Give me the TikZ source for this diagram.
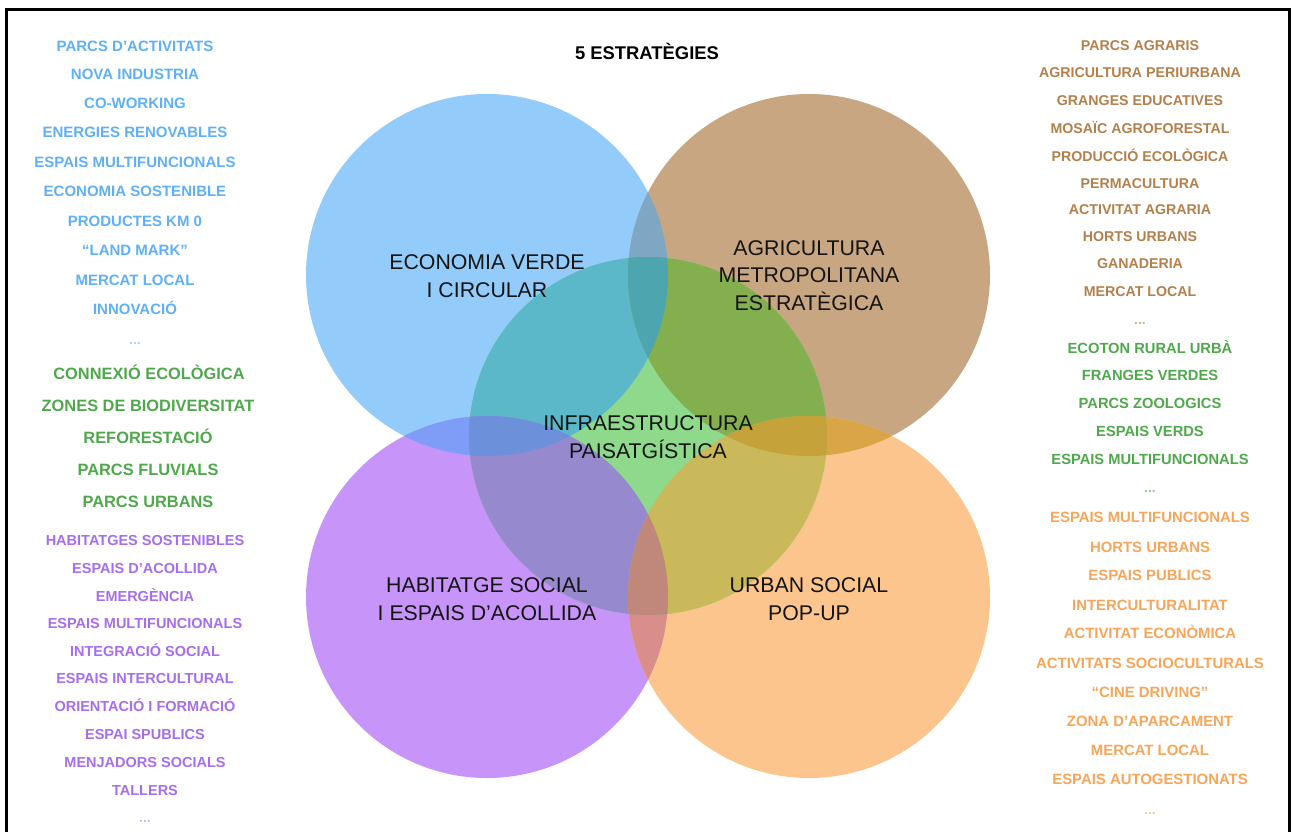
\documentclass[tikz,border=0pt]{standalone}
\usepackage{fontspec}
\setmainfont{Liberation Sans}
\definecolor{cBlue}{HTML}{93CBFB}
\definecolor{cBrown}{HTML}{C8A682}
\definecolor{cPurple}{HTML}{C794F9}
\definecolor{cOrange}{HTML}{FCC58E}
\definecolor{cGreen}{HTML}{8ED98C}
\definecolor{cBlueGreen}{HTML}{5BB8C9}
\definecolor{cBrownGreen}{HTML}{84AF4F}
\definecolor{cPurpleGreen}{HTML}{9689CE}
\definecolor{cOrangeGreen}{HTML}{C9B95A}
\definecolor{cBlueBrown}{HTML}{7FA6C3}
\definecolor{cBlueBrownGreen}{HTML}{4DA5B0}
\definecolor{cPurpleOrange}{HTML}{DA8E8C}
\definecolor{cPurpleOrangeGreen}{HTML}{C0877B}
\definecolor{cBluePurple}{HTML}{7F9CF6}
\definecolor{cBluePurpleGreen}{HTML}{6D90DA}
\definecolor{cBrownOrange}{HTML}{D9A547}
\definecolor{cBrownOrangeGreen}{HTML}{C6A23A}
\definecolor{tBlue}{HTML}{5FB0F6}
\definecolor{tGreen}{HTML}{4FA84B}
\definecolor{tPurple}{HTML}{A66EEE}
\definecolor{tBrown}{HTML}{B3804C}
\definecolor{tOrange}{HTML}{F6A65A}
\tikzset{
  lbl/.style={align=center, font=\fontsize{21.3}{27.8}\selectfont, text=black!92, inner sep=0pt},
  itm/.style={font=\fontsize{#1}{#1}\selectfont\bfseries, text height=0.716*#1 pt, text depth=0pt, inner sep=0pt},
  dts/.style={font=\fontsize{14}{14}\selectfont\bfseries, inner sep=0pt, anchor=base},
}
\begin{document}
\begin{tikzpicture}[x=1pt,y=-1pt]
\useasboundingbox (0,0) rectangle (1292,832);
\fill[white] (0,0) rectangle (1292,832);
% frame
\draw[line width=3pt] (6.5,832) -- (6.5,10) -- (1289.5,10) -- (1289.5,832);

\def\R{181}
\def\RG{179}
\coordinate (cB) at (487,275);
\coordinate (cBr) at (809,275);
\coordinate (cP) at (487,597);
\coordinate (cO) at (809,597);
\coordinate (cG) at (648,436);

% base circles
\fill[cBlue] (cB) circle[radius=\R];
\fill[cBrown] (cBr) circle[radius=\R];
\fill[cPurple] (cP) circle[radius=\R];
\fill[cOrange] (cO) circle[radius=\R];
\fill[cGreen] (cG) circle[radius=\RG];
% outer pair overlaps
\begin{scope}\clip (cB) circle[radius=\R]; \fill[cBlueBrown] (cBr) circle[radius=\R];\end{scope}
\begin{scope}\clip (cP) circle[radius=\R]; \fill[cPurpleOrange] (cO) circle[radius=\R];\end{scope}
\begin{scope}\clip (cB) circle[radius=\R]; \fill[cBluePurple] (cP) circle[radius=\R];\end{scope}
\begin{scope}\clip (cBr) circle[radius=\R]; \fill[cBrownOrange] (cO) circle[radius=\R];\end{scope}
% green overlaps
\begin{scope}\clip (cG) circle[radius=\RG]; \fill[cBlueGreen] (cB) circle[radius=\R];\end{scope}
\begin{scope}\clip (cG) circle[radius=\RG]; \fill[cBrownGreen] (cBr) circle[radius=\R];\end{scope}
\begin{scope}\clip (cG) circle[radius=\RG]; \fill[cPurpleGreen] (cP) circle[radius=\R];\end{scope}
\begin{scope}\clip (cG) circle[radius=\RG]; \fill[cOrangeGreen] (cO) circle[radius=\R];\end{scope}
% triple overlaps
\begin{scope}\clip (cG) circle[radius=\RG]; \clip (cB) circle[radius=\R]; \fill[cBlueBrownGreen] (cBr) circle[radius=\R];\end{scope}
\begin{scope}\clip (cG) circle[radius=\RG]; \clip (cP) circle[radius=\R]; \fill[cPurpleOrangeGreen] (cO) circle[radius=\R];\end{scope}
\begin{scope}\clip (cG) circle[radius=\RG]; \clip (cB) circle[radius=\R]; \fill[cBluePurpleGreen] (cP) circle[radius=\R];\end{scope}
\begin{scope}\clip (cG) circle[radius=\RG]; \clip (cBr) circle[radius=\R]; \fill[cBrownOrangeGreen] (cO) circle[radius=\R];\end{scope}

% title
\node[itm=18.4, text=black] (title) at (647,53) {5 ESTRATÈGIES};

% circle labels
\node[lbl] (lEco) at (487,276.5) {ECONOMIA VERDE\\I CIRCULAR};
\node[lbl] (lAgr) at (809,275.5) {AGRICULTURA\\METROPOLITANA\\ESTRATÈGICA};
\node[lbl] (lInf) at (648,437.5) {INFRAESTRUCTURA\\PAISATGÍSTICA};
\node[lbl] (lHab) at (487,599) {HABITATGE SOCIAL\\I ESPAIS D’ACOLLIDA};
\node[lbl] (lUrb) at (809,599) {URBAN SOCIAL\\POP-UP};

% left list: blue
\begin{scope}[every node/.style={itm=15, text=tBlue}]
\node (b1) at (135,46) {PARCS D’ACTIVITATS};
\node (b2) at (135,74.5) {NOVA INDUSTRIA};
\node (b3) at (135,103.5) {CO-WORKING};
\node (b4) at (135,132.5) {ENERGIES RENOVABLES};
\node (b5) at (135,162.5) {ESPAIS MULTIFUNCIONALS};
\node (b6) at (135,191.5) {ECONOMIA SOSTENIBLE};
\node (b7) at (135,221) {PRODUCTES KM 0};
\node (b8) at (135,250) {“LAND MARK”};
\node (b9) at (135,280.5) {MERCAT LOCAL};
\node (b10) at (135,309.5) {INNOVACIÓ};
\end{scope}
\node[dts, text=tBlue!55] (bd) at (135,344) {...};
% left list: green
\begin{scope}[every node/.style={itm=16.4, text=tGreen}]
\node (g1) at (149,374) {CONNEXIÓ ECOLÒGICA};
\node (g2) at (148,406) {ZONES DE BIODIVERSITAT};
\node (g3) at (148,438) {REFORESTACIÓ};
\node (g4) at (148,470) {PARCS FLUVIALS};
\node (g5) at (148,502) {PARCS URBANS};
\end{scope}
% left list: purple
\begin{scope}[every node/.style={itm=14.5, text=tPurple}]
\node (p1) at (145,540) {HABITATGES SOSTENIBLES};
\node (p2) at (145,568) {ESPAIS D’ACOLLIDA};
\node (p3) at (145,596) {EMERGÈNCIA};
\node (p4) at (145,623) {ESPAIS MULTIFUNCIONALS};
\node (p5) at (145,651) {INTEGRACIÓ SOCIAL};
\node (p6) at (145,678) {ESPAIS INTERCULTURAL};
\node (p7) at (145,706) {ORIENTACIÓ I FORMACIÓ};
\node (p8) at (145,734) {ESPAI SPUBLICS};
\node (p9) at (145,762) {MENJADORS SOCIALS};
\node (p10) at (145,790) {TALLERS};
\end{scope}
\node[dts, text=tPurple!50] (pd) at (145,822) {...};

% right list: brown
\begin{scope}[every node/.style={itm=14.2, text=tBrown}]
\node (r1) at (1140,45) {PARCS AGRARIS};
\node (r2) at (1140,72.5) {AGRICULTURA PERIURBANA};
\node (r3) at (1140,100.5) {GRANGES EDUCATIVES};
\node (r4) at (1140,128.5) {MOSAÏC AGROFORESTAL};
\node (r5) at (1140,156) {PRODUCCIÓ ECOLÒGICA};
\node (r6) at (1140,183) {PERMACULTURA};
\node (r7) at (1140,209.5) {ACTIVITAT AGRARIA};
\node (r8) at (1140,236.5) {HORTS URBANS};
\node (r9) at (1140,263.5) {GANADERIA};
\node (r10) at (1140,291) {MERCAT LOCAL};
\end{scope}
\node[dts, text=tBrown!60] (rd) at (1140,324) {...};
% right list: green
\begin{scope}[every node/.style={itm=14.7, text=tGreen}]
\node (h1) at (1150,348) {ECOTON RURAL URBÀ};
\node (h2) at (1150,375) {FRANGES VERDES};
\node (h3) at (1150,403) {PARCS ZOOLOGICS};
\node (h4) at (1150,431.5) {ESPAIS VERDS};
\node (h5) at (1150,459.5) {ESPAIS MULTIFUNCIONALS};
\end{scope}
\node[dts, text=tGreen!60] (hd) at (1150,492) {...};
% right list: orange
\begin{scope}[every node/.style={itm=14.9, text=tOrange}]
\node (o1) at (1150,517.5) {ESPAIS MULTIFUNCIONALS};
\node (o2) at (1150,547) {HORTS URBANS};
\node (o3) at (1150,575.5) {ESPAIS PUBLICS};
\node (o4) at (1150,605) {INTERCULTURALITAT};
\node (o5) at (1150,633.5) {ACTIVITAT ECONÒMICA};
\node (o6) at (1150,663) {ACTIVITATS SOCIOCULTURALS};
\node (o7) at (1150,692) {“CINE DRIVING”};
\node (o8) at (1150,721.5) {ZONA D’APARCAMENT};
\node (o9) at (1150,750) {MERCAT LOCAL};
\node (o10) at (1150,779.5) {ESPAIS AUTOGESTIONATS};
\end{scope}
\node[dts, text=tOrange!60] (od) at (1150,814) {...};
\end{tikzpicture}
\end{document}
